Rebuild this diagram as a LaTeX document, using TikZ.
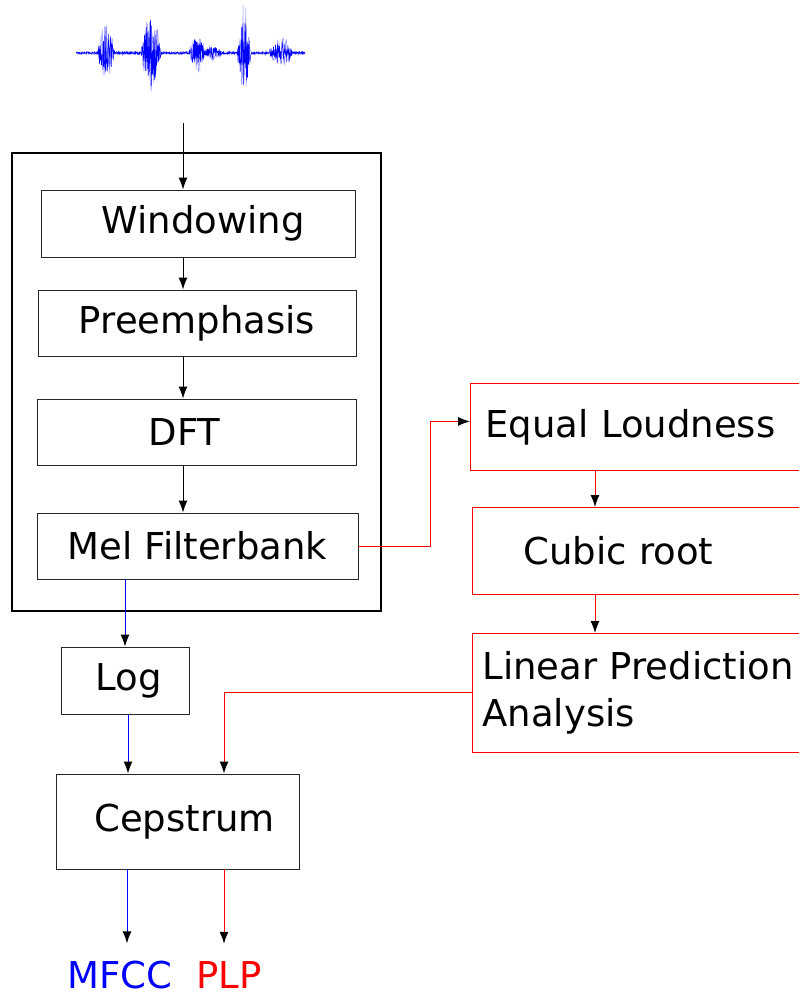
\documentclass[tikz,border=0pt]{standalone}
\usepackage{fontspec}
\setmainfont{DejaVu Sans}
\usetikzlibrary{arrows.meta}

\tikzset{
  block/.style={draw=black!85, line width=0.9pt, rectangle, inner sep=0pt},
  plpblock/.style={draw=red, line width=0.9pt, rectangle, inner ysep=0pt, anchor=north west,
    text width=345pt, align=left},
  flow/.style={line width=1pt, -{Latex[black,length=12pt,width=9pt]}},
}

\begin{document}
\begin{tikzpicture}[x=1pt,y=-1pt,
  declare function={env(\t)=1.5+27*max(0,1-((\t-106)/9)^2)+44*max(0,1-((\t-151)/10)^2)
    +20*max(0,1-((\t-197)/8)^2)+7*max(0,1-((\t-213)/9)^2)
    +48*max(0,1-((\t-244)/7)^2)+15*max(0,1-((\t-281)/12)^2);},
  every node/.style={font=\fontsize{37}{47}\selectfont}]
\useasboundingbox (0,0) rectangle (798,992);

% speech signal
\pgfmathsetseed{11}
\draw[blue!45, line width=0.4pt] plot[domain=76:305, samples=500] (\x, {53+env(\x)*rand});
\draw[blue, line width=0.5pt] plot[domain=76:305, samples=800] (\x, {53+0.75*env(\x)*rand});
\coordinate (wave) at (183,123);

% common front end
\draw[line width=2pt] (12,153) rectangle (381,611);
\node[block, minimum width=314pt, minimum height=67pt] (win) at (198,223.5) {\hspace{10pt}Windowing};
\node[block, minimum width=318pt, minimum height=66pt] (pre) at (197,323) {Preemphasis\\[-8pt]\mbox{}};
\node[block, minimum width=319pt, minimum height=66pt] (dft) at (196.5,432) {DFT\hspace{24pt}\mbox{}};
\node[block, minimum width=321pt, minimum height=66pt] (mel) at (197.5,546) {Mel Filterbank};

\draw[flow] (wave) -- (wave |- win.north);
\draw[flow] (win.south -| wave) -- (pre.north -| wave);
\draw[flow] (pre.south -| wave) -- (dft.north -| wave);
\draw[flow] (dft.south -| wave) -- (mel.north -| wave);

% MFCC branch
\node[block, minimum width=128pt, minimum height=67pt] (log) at (125,680.5) {\hspace{8pt}Log};
\node[block, minimum width=243pt, minimum height=95pt] (cep) at (177.5,821.5) {\hspace{14pt}Cepstrum};
\node[text=blue, inner sep=0pt, anchor=base] (mfcc) at (120,988) {MFCC};
\node[text=red, inner sep=0pt, anchor=base] (plp) at (229,988) {PLP};

\draw[flow, draw=blue] (mel.south -| log.north) -- (log.north);
\draw[flow, draw=blue] ([xshift=3pt]log.south) -- ([xshift=3pt]log.south |- cep.north);
\draw[flow, draw=blue] ([xshift=2pt]cep.south -| log.south) -- ([xshift=2pt,yshift=17pt]mfcc.north -| log.south);

% PLP branch
\node[plpblock, minimum height=87pt, inner xsep=15pt] (eq) at (470,383) {Equal Loudness};
\node[plpblock, minimum height=87pt, inner xsep=51pt] (cub) at (472,507) {Cubic root};
\node[plpblock, minimum height=119pt, inner xsep=10pt] (lpa) at (472,633) {Linear Prediction\\Analysis};

\draw[flow, draw=red] (mel.east) -- ++(72,0) |- ([yshift=5.5pt]eq.west);
\draw[flow, draw=red] ([xshift=125pt]eq.south west) -- ([xshift=123pt]cub.north west);
\draw[flow, draw=red] ([xshift=123pt]cub.south west) -- ([xshift=123pt]lpa.north west);
\draw[flow, draw=red] (lpa.west) -| ([xshift=-5pt]cep.north -| plp.north);
\draw[flow, draw=red] ([xshift=-5pt]cep.south -| plp.north) -- ([xshift=-5pt,yshift=17pt]plp.north);
\end{tikzpicture}
\end{document}
